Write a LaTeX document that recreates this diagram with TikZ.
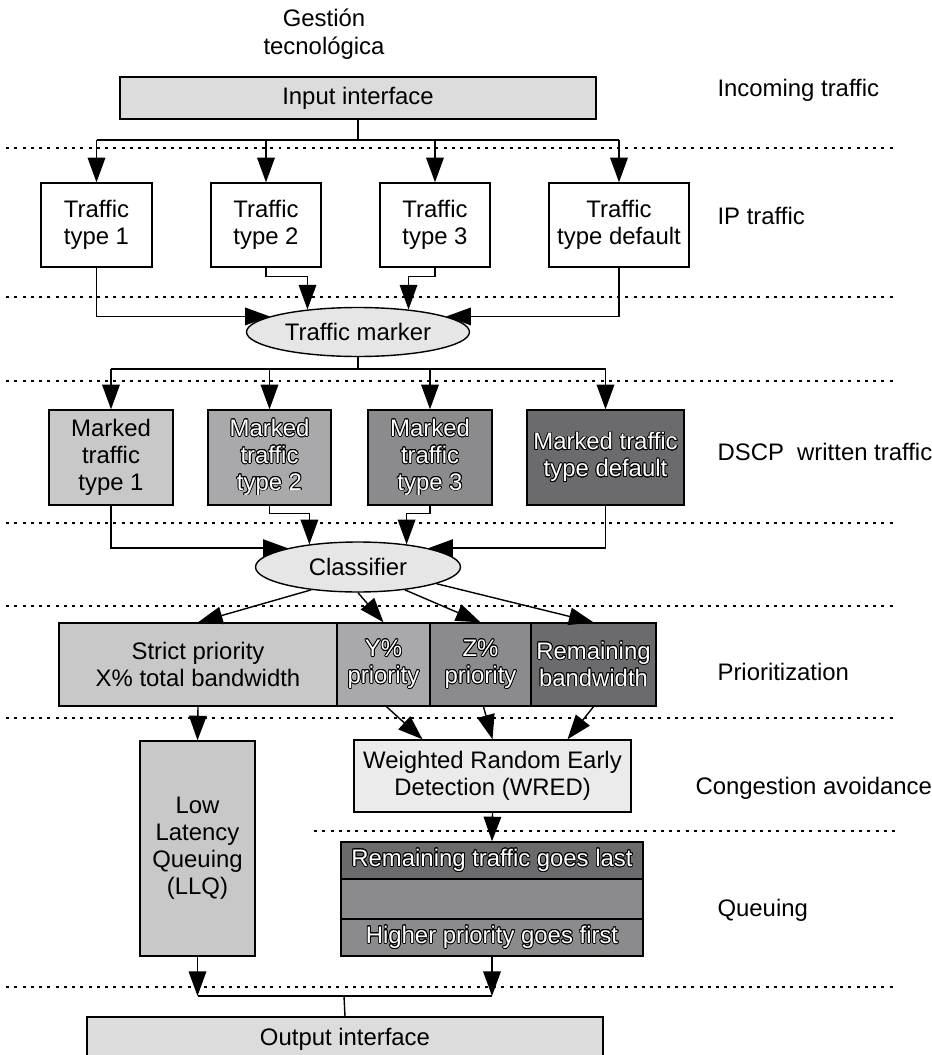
\documentclass[tikz,border=0pt]{standalone}
\usepackage{fontspec}
\setmainfont{Liberation Sans}
\usepackage[copies]{contour}
\contourlength{0.45pt}
\usepackage{tikz}
\usetikzlibrary{positioning,calc,arrows.meta,shapes.geometric}
\definecolor{lightbox}{HTML}{DCDCDC}
\definecolor{ovalfill}{HTML}{E6E6E6}
\definecolor{grayA}{HTML}{C8C8C8}
\definecolor{grayB}{HTML}{A9A9AB}
\definecolor{grayC}{HTML}{8B8B8D}
\definecolor{grayD}{HTML}{6B6B6D}
\definecolor{wredfill}{HTML}{EBEBEB}
\newcommand{\outl}[1]{\contour{black}{#1}}
\tikzset{
  txt/.style={font=\fontsize{13.6}{15.3}\selectfont},
  box/.style={draw, txt, inner sep=0pt, align=center},
  oval/.style={draw, ellipse, fill=ovalfill, txt, inner sep=0pt},
  outlined/.style={text=white},
  lbl/.style={txt, anchor=west},
  arr/.style={-{Triangle[length=14pt,width=10pt]}},
  sep/.style={dash pattern=on 1.7pt off 3pt, line width=0.8pt}
}

\begin{document}
\begin{tikzpicture}[x=0.02cm, y=-0.02cm, line width=0.8pt]
        \useasboundingbox (0,0) rectangle (931,1055);
        \clip (0,0) rectangle (931,1055);

        \foreach \y in {148,297,381,523,606,718,987}
            \draw[sep] (6,\y) -- (897,\y);
        \draw[sep] (314,831) -- (897,831);

        \node[txt, align=center, font=\fontsize{13.6}{16}\selectfont] (title) at (324,34) {Gestión\\tecnológica};
        \node[lbl] (incoming) at (711,90) {Incoming traffic};
        \node[lbl] (ip) at (711,216) {IP traffic};
        \node[lbl] (dscp) at (711,452) {DSCP\ \ written traffic};
        \node[lbl] (prio) at (711,672) {Prioritization};
        \node[lbl] (cong) at (689,788) {Congestion avoidance};
        \node[lbl] (queuing) at (711,910) {Queuing};

        \node[box, fill=lightbox, minimum width=9.52cm, minimum height=0.84cm] (in) at (358,98) {Input interface};

        \node[box, minimum width=2.22cm, minimum height=1.68cm] (t1) at (96.5,225) {Traffic\\type 1};
        \node[box, minimum width=2.2cm, minimum height=1.68cm] (t2) at (266,225) {Traffic\\type 2};
        \node[box, minimum width=2.2cm, minimum height=1.68cm] (t3) at (435,225) {Traffic\\type 3};
        \node[box, minimum width=2.8cm, minimum height=1.68cm] (t4) at (619,225) {Traffic\\type default};

        \node[oval, minimum width=4.46cm, minimum height=0.98cm] (mark) at (358,332) {Traffic marker};

        \node[box, fill=grayA, minimum width=2.48cm, minimum height=1.9cm] (m1) at (111,457.5) {Marked\\traffic\\type 1};
        \node[box, outlined, fill=grayB, minimum width=2.46cm, minimum height=1.9cm] (m2) at (269.5,457.5) {\outl{Marked}\\\outl{traffic}\\\outl{type 2}};
        \node[box, outlined, fill=grayC, minimum width=2.48cm, minimum height=1.9cm] (m3) at (430,457.5) {\outl{Marked}\\\outl{traffic}\\\outl{type 3}};
        \node[box, outlined, fill=grayD, minimum width=3.14cm, minimum height=1.9cm] (m4) at (605.5,457.5) {\outl{Marked traffic}\\\outl{type default}};

        \node[oval, minimum width=4.1cm, minimum height=1.0cm] (cls) at (358,567) {Classifier};

        \node[box, fill=grayA, minimum width=5.56cm, minimum height=1.66cm] (p1) at (198,664.5) {Strict priority\\X\% total bandwidth};
        \node[box, outlined, fill=grayB, minimum width=1.86cm, minimum height=1.66cm] (p2) at (383.5,664.5) {\outl{Y\%}\\\outl{priority}};
        \node[box, outlined, fill=grayC, minimum width=2.02cm, minimum height=1.66cm] (p3) at (480.5,664.5) {\outl{Z\%}\\\outl{priority}};
        \node[box, outlined, fill=grayD, minimum width=2.5cm, minimum height=1.66cm] (p4) at (593.5,664.5) {\outl{Remaining}\\\outl{bandwidth}};

        \node[box, fill=wredfill, minimum width=5.54cm, minimum height=1.44cm] (wred) at (492.5,776) {Weighted Random Early\\Detection (WRED)};
        \node[box, fill=grayA, minimum width=2.3cm, minimum height=4.3cm] (llq) at (197.5,848.5) {Low\\Latency\\Queuing\\(LLQ)};

        \node[box, outlined, fill=grayD, minimum width=6.04cm, minimum height=0.74cm] (q1) at (492,860.5) {\outl{Remaining traffic goes last}};
        \node[box, fill=grayC, minimum width=6.04cm, minimum height=0.8cm] (q2) at (492,899) {};
        \node[box, outlined, fill=grayC, minimum width=6.04cm, minimum height=0.74cm] (q3) at (492,937.5) {\outl{Higher priority goes first}};

        \node[box, fill=lightbox, minimum width=10.32cm, minimum height=0.9cm] (out) at (345,1039.5) {Output interface};

        \coordinate (bus1) at (358,140);
        \draw (in.south) -- (bus1);
        \draw (bus1 -| t1) -- (bus1 -| t4);
        \foreach \n in {t1,t2,t3,t4}
            \draw[arr] (bus1 -| \n) -- (\n.north);

        \draw[arr] (t1.south) |- (mark.170);
        \draw[arr] (t4.south) |- (mark.10);
        \draw[arr] (t2.south) -- ++(0,9) -| (mark.156);
        \draw[arr] (t3.south) -- ++(0,9) -| (mark.24);

        \coordinate (bus2) at (358,369);
        \draw (mark.south) -- (bus2);
        \draw (bus2 -| m1) -- (bus2 -| m4);
        \foreach \n in {m1,m2,m3,m4}
            \draw[arr] (bus2 -| \n) -- (\n.north);

        \draw[arr] (m1.south) |- (cls.165);
        \draw[arr] (m4.south) |- (cls.15);
        \draw[arr] (m2.south) -- ++(0,8) -| (cls.155);
        \draw[arr] (m3.south) -- ++(0,8) -| (cls.25);

        \draw[arr] (cls.206) -- (p1.north);
        \draw[arr] (cls.south) -- (p2.north);
        \draw[arr] (cls.334) -- (p3.north);
        \draw[arr] (cls.348) -- (p4.north);

        \draw[arr] (p1.south) -- (llq.north);
        \draw[arr] ($(p2.south)+(3,0)$) -- ($(wred.north)+(-70,0)$);
        \draw[arr] ($(p3.south)+(3,0)$) -- (wred.north);
        \draw[arr] (p4.south) -- ($(wred.north)+(75,0)$);
        \draw[arr] (wred.south) -- (q1.north);

        \coordinate (jn) at (344,996);
        \draw[arr] (llq.south) -- (llq.south |- jn);
        \draw[arr] (q3.south) -- (q3.south |- jn);
        \draw (llq.south |- jn) -- (q3.south |- jn);
        \draw (jn) -- (out.north);
\end{tikzpicture}
\end{document}
